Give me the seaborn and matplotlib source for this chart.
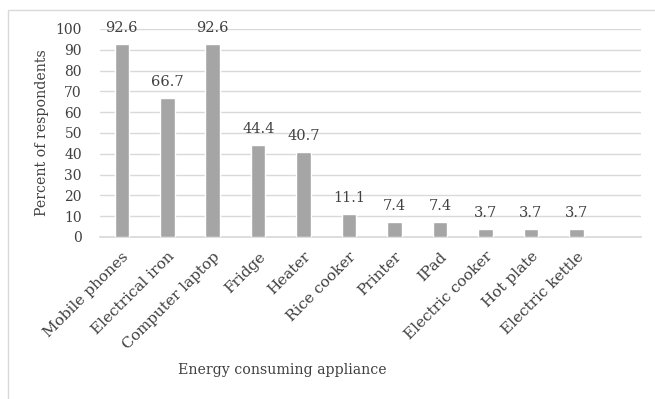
import matplotlib
matplotlib.use("Agg")
import matplotlib.pyplot as plt
import seaborn as sns
import pandas as pd
from matplotlib.patches import Rectangle

appliances = ["Mobile phones", "Electrical iron", "Computer laptop", "Fridge", "Heater",
              "Rice cooker", "Printer", "IPad", "Electric cooker", "Hot plate", "Electric kettle"]
percent = [92.6, 66.7, 92.6, 44.4, 40.7, 11.1, 7.4, 7.4, 3.7, 3.7, 3.7]
y_ticks = [0, 10, 20, 30, 40, 50, 60, 70, 80, 90, 100]

df = pd.DataFrame({"appliance": appliances, "percent": percent})

sns.set_theme(style="white")
plt.rcParams["font.family"] = ["DejaVu Serif"]
text_color = "#404040"

fig = plt.figure(figsize=(6.55, 3.99), dpi=100)
ax = fig.add_axes([100 / 655, 1 - 237 / 399, 541 / 655, 208 / 399])

sns.barplot(data=df, x="appliance", y="percent", color="#a5a5a5", width=0.32,
            saturation=1, ax=ax, zorder=3)

ax.set_xlim(-0.48, len(appliances) + 0.42)
ax.set_ylim(0, 100)
ax.set_yticks(y_ticks)
ax.set_yticklabels([str(t) for t in y_ticks], fontsize=10, color=text_color)
ax.tick_params(axis="y", length=0, pad=13)
ax.tick_params(axis="x", length=0, pad=9)
ax.grid(axis="y", color="#d9d9d9", linewidth=1, zorder=0)
for s in ["top", "right", "left"]:
    ax.spines[s].set_visible(False)
ax.spines["bottom"].set_color("#d9d9d9")
ax.spines["bottom"].set_zorder(1)

ax.set_xticks(range(len(appliances)))
ax.set_xticklabels(appliances, rotation=45, ha="right", rotation_mode="anchor",
                   fontsize=11, color=text_color)

for i, v in enumerate(percent):
    ax.annotate(f"{v:.1f}", (i, v), xytext=(0, 6.5), textcoords="offset points",
                ha="center", va="bottom", fontsize=10.5, color=text_color, zorder=4)

ax.set_xlabel("")
ax.set_ylabel("Percent of respondents", fontsize=10.2, color=text_color, labelpad=5)
fig.text(282 / 655, 1 - 370 / 399, "Energy consuming appliance", ha="center", va="center",
         fontsize=10.2, color=text_color)

# chart-area border
fig.patches.append(Rectangle((8 / 655, -0.05), 1.0, 1 - 10 / 399 + 0.05,
                             transform=fig.transFigure, fill=False,
                             edgecolor="#d9d9d9", linewidth=1))

fig.savefig("out.png", dpi=100)
